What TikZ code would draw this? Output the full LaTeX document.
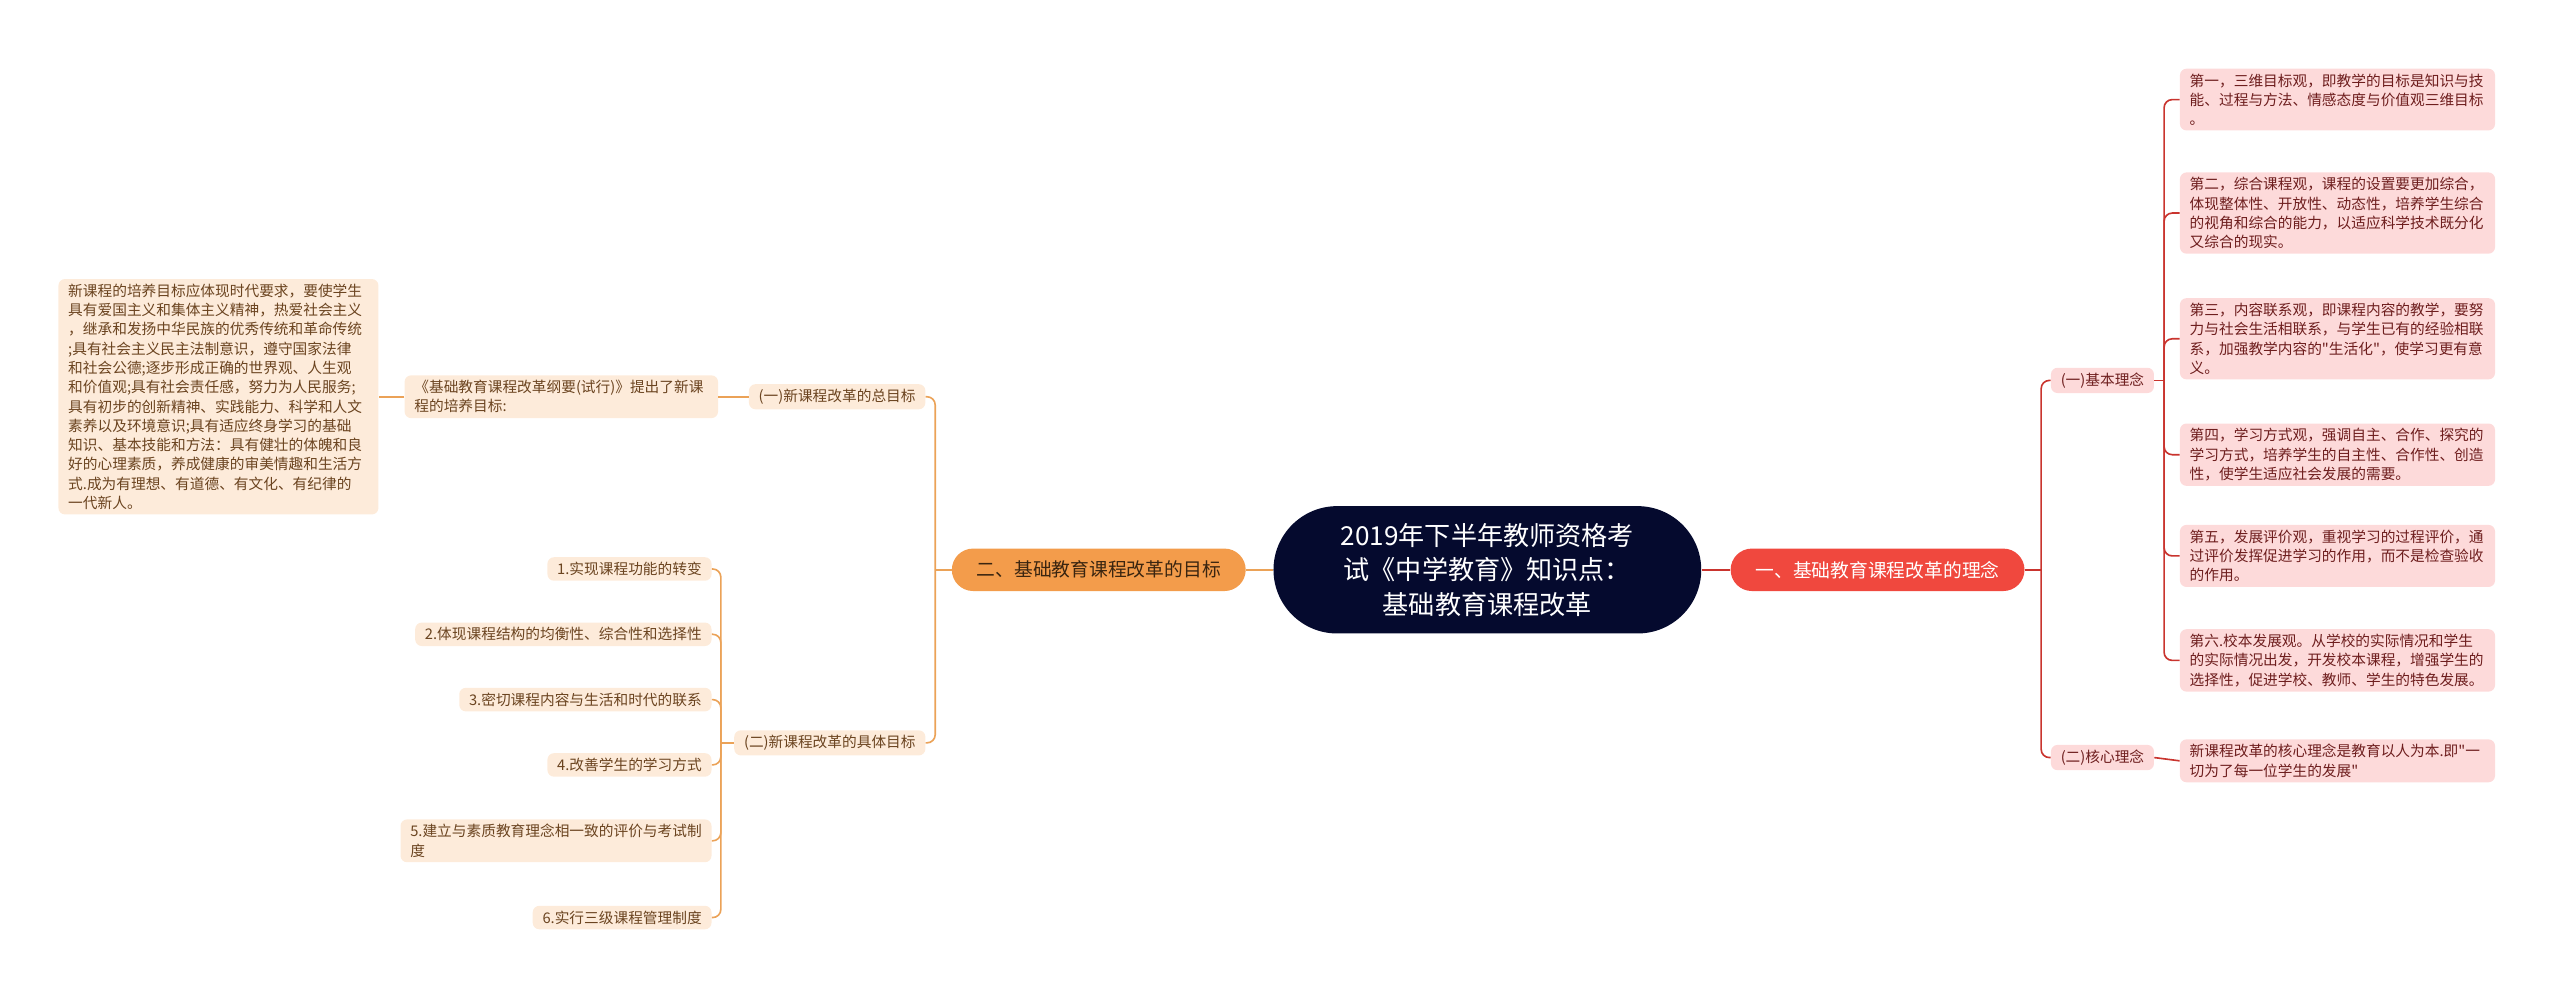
\documentclass[tikz,border=0pt]{standalone}
\usepackage{fontspec}
\newfontfamily\cjkfont{Noto Sans CJK SC}
\definecolor{rootnavy}{HTML}{050A2E}
\definecolor{orgmain}{HTML}{F39C4B}
\definecolor{orgline}{HTML}{EBA257}
\definecolor{peach}{HTML}{FDEBDA}
\definecolor{browntxt}{HTML}{6B4420}
\definecolor{darktxt}{HTML}{3A2510}
\definecolor{redmain}{HTML}{F0483E}
\definecolor{redline}{HTML}{C9342E}
\definecolor{pinkbox}{HTML}{FDDADA}
\definecolor{redtxt}{HTML}{6E1E1E}

\begin{document}
\begin{tikzpicture}[x=1pt, y=-1pt,
    root/.style={fill=rootnavy, text=white, rounded corners=39pt, minimum width=262pt, minimum height=78pt,
      align=center, font=\cjkfont\fontsize{16}{21}\selectfont},
    mainL/.style={fill=orgmain, text=darktxt, rounded corners=13pt, minimum width=180pt, minimum height=26pt,
      font=\cjkfont\fontsize{11.5}{14}\selectfont},
    mainR/.style={mainL, fill=redmain, text=white},
    subL/.style={fill=peach, text=browntxt, rounded corners=4pt, inner xsep=6pt, inner ysep=3pt,
      align=left, font=\cjkfont\fontsize{9}{11.8}\selectfont},
    subR/.style={subL, fill=pinkbox, text=redtxt},
    linkL/.style={draw=orgline, line width=1pt, rounded corners=5pt},
    linkR/.style={draw=redline, line width=1pt, rounded corners=5pt}]
  \useasboundingbox (0,0) rectangle (1568,613);

  % 中心主题
  \node[root] (root) at (911,349) {2019年下半年教师资格考\\试《中学教育》知识点：\\基础教育课程改革};

  % 一级分支
  \node[mainL] (goal) at (673,349) {二、基础教育课程改革的目标};
  \node[mainR] (idea) at (1150,349) {一、基础教育课程改革的理念};

  % 左侧：改革的目标
  \node[subL, anchor=east] (gen) at (567,243) {(一)新课程改革的总目标};
  \node[subL, anchor=east] (spec) at (567,455) {(二)新课程改革的具体目标};
  \node[subL, anchor=east, text width=180pt] (outline) at (440,243) {《基础教育课程改革纲要(试行)》提出了新课\\程的培养目标:};
  \node[subL, anchor=east, text width=184pt] (aim) at (232,243) {新课程的培养目标应体现时代要求，要使学生\\具有爱国主义和集体主义精神，热爱社会主义\\，继承和发扬中华民族的优秀传统和革命传统\\;具有社会主义民主法制意识，遵守国家法律\\和社会公德;逐步形成正确的世界观、人生观\\和价值观;具有社会责任感，努力为人民服务;\\具有初步的创新精神、实践能力、科学和人文\\素养以及环境意识;具有适应终身学习的基础\\知识、基本技能和方法：具有健壮的体魄和良\\好的心理素质，养成健康的审美情趣和生活方\\式.成为有理想、有道德、有文化、有纪律的\\一代新人。};

  \node[subL, anchor=east] (i1) at (436,348.5) {1.实现课程功能的转变};
  \node[subL, anchor=east] (i2) at (436,388.5) {2.体现课程结构的均衡性、综合性和选择性};
  \node[subL, anchor=east] (i3) at (436,428.5) {3.密切课程内容与生活和时代的联系};
  \node[subL, anchor=east] (i4) at (436,468.5) {4.改善学生的学习方式};
  \node[subL, anchor=east] (i5) at (436,515) {5.建立与素质教育理念相一致的评价与考试制\\度};
  \node[subL, anchor=east] (i6) at (436,562) {6.实行三级课程管理制度};

  % 右侧：改革的理念
  \node[subR, anchor=west] (basic) at (1256,233) {(一)基本理念};
  \node[subR, anchor=west] (core) at (1256,464) {(二)核心理念};

  \node[subR, anchor=west, text width=181pt] (r1) at (1335,61) {第一，三维目标观，即教学的目标是知识与技\\能、过程与方法、情感态度与价值观三维目标\\。};
  \node[subR, anchor=west, text width=181pt] (r2) at (1335,130.5) {第二，综合课程观，课程的设置要更加综合，\\体现整体性、开放性、动态性，培养学生综合\\的视角和综合的能力，以适应科学技术既分化\\又综合的现实。};
  \node[subR, anchor=west, text width=181pt] (r3) at (1335,207.5) {第三，内容联系观，即课程内容的教学，要努\\力与社会生活相联系，与学生已有的经验相联\\系，加强教学内容的"生活化"，使学习更有意\\义。};
  \node[subR, anchor=west, text width=181pt] (r4) at (1335,278.5) {第四，学习方式观，强调自主、合作、探究的\\学习方式，培养学生的自主性、合作性、创造\\性，使学生适应社会发展的需要。};
  \node[subR, anchor=west, text width=181pt] (r5) at (1335,340.5) {第五，发展评价观，重视学习的过程评价，通\\过评价发挥促进学习的作用，而不是检查验收\\的作用。};
  \node[subR, anchor=west, text width=181pt] (r6) at (1335,404.5) {第六.校本发展观。从学校的实际情况和学生\\的实际情况出发，开发校本课程，增强学生的\\选择性，促进学校、教师、学生的特色发展。};
  \node[subR, anchor=west, text width=181pt] (r7) at (1335,466) {新课程改革的核心理念是教育以人为本.即"一\\切为了每一位学生的发展"};

  % 连线
  \draw[linkL] (root.west) -- (goal.east);
  \draw[linkR] (root.east) -- (idea.west);

  \draw[linkL] (goal.west) -- ++(-10,0) coordinate (gT);
  \draw[linkL] (gT) |- (gen.east);
  \draw[linkL] (gT) |- (spec.east);
  \draw[linkL] (gen.west) -- (outline.east);
  \draw[linkL] (outline.west) -- (aim.east);

  \draw[linkL] (spec.west) -- ++(-8,0) coordinate (sT);
  \draw[linkL] (sT) |- (i1.east);
  \draw[linkL] (sT) |- (i2.east);
  \draw[linkL] (sT) |- (i3.east);
  \draw[linkL] (sT) |- (i4.east);
  \draw[linkL] (sT) |- (i5.east);
  \draw[linkL] (sT) |- (i6.east);

  \draw[linkR] (idea.east) -- ++(10,0) coordinate (iT);
  \draw[linkR] (iT) |- (basic.west);
  \draw[linkR] (iT) |- (core.west);

  \draw[linkR] (basic.east) -- ++(6,0) coordinate (bT);
  \draw[linkR] (bT) |- (r1.west);
  \draw[linkR] (bT) |- (r2.west);
  \draw[linkR] (bT) |- (r3.west);
  \draw[linkR] (bT) |- (r4.west);
  \draw[linkR] (bT) |- (r5.west);
  \draw[linkR] (bT) |- (r6.west);
  \draw[linkR] (core.east) -- (r7.west);
\end{tikzpicture}
\end{document}
